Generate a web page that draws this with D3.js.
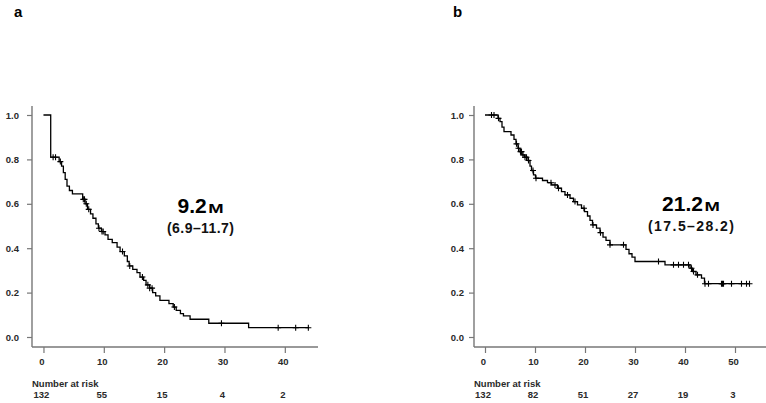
<!DOCTYPE html>
<html><head><meta charset="utf-8">
<script src="https://cdn.jsdelivr.net/npm/d3@7"></script>
<style>
body{margin:0;background:#fff;}
svg{display:block;font-family:Arial,"Liberation Sans",sans-serif;}
</style></head>
<body>
<svg id="chart" width="766" height="403"></svg>
<script>
// ---- Panel a data ----
const aStepTimes = [0,1.2,2.6,3.0,3.3,3.6,3.9,4.3,4.8,6.5,6.9,7.3,7.8,8.2,8.7,9.1,9.6,10.2,10.7,11.4,12.2,12.7,13.4,13.9,14.2,14.8,15.5,16.0,16.6,17.0,17.6,18.1,18.6,19.3,20.8,21.5,22.0,22.7,23.2,24.3,27.4,34.0];
const aStepSurv  = [1.0,0.81,0.79,0.77,0.74,0.71,0.68,0.66,0.645,0.62,0.60,0.575,0.555,0.535,0.51,0.49,0.475,0.46,0.44,0.425,0.405,0.385,0.365,0.34,0.32,0.305,0.29,0.27,0.255,0.235,0.22,0.20,0.185,0.165,0.15,0.135,0.12,0.105,0.095,0.08,0.062,0.042];
const aEnd = 44;
const aCensor = [1.6,2.0,2.8,6.6,6.8,7.1,7.5,9.2,9.7,9.9,13.1,14.3,16.4,17.3,17.6,18.0,21.7,29.5,38.9,41.8,43.9];
const aTicks = [0,10,20,30,40];
const aRisk = ["132","55","15","4","2"];
const aMedian = "9.2", aCI = "(6.9\u201311.7)";

// ---- Panel b data ----
const bStepTimes = [0,2.6,3.0,3.4,3.8,5.2,5.8,6.2,6.6,7.0,7.4,7.9,8.6,9.0,9.3,9.7,10.1,11.5,12.5,13.3,14.5,15.3,16.0,17.0,17.7,18.5,19.3,19.9,20.5,21.0,21.5,22.3,23.0,23.6,24.2,25.0,28.2,28.8,29.4,30.0,36.0,41.0,41.5,42.2,43.3,43.9];
const bStepSurv  = [1.0,0.985,0.97,0.945,0.925,0.91,0.89,0.87,0.85,0.835,0.82,0.81,0.795,0.77,0.75,0.73,0.715,0.705,0.695,0.685,0.67,0.655,0.64,0.625,0.61,0.595,0.58,0.565,0.545,0.525,0.505,0.49,0.47,0.45,0.435,0.415,0.395,0.375,0.36,0.34,0.325,0.31,0.295,0.28,0.265,0.24];
const bEnd = 53;
const bCensor = [1.3,1.8,2.7,6.3,6.7,7.1,7.3,7.6,8.0,8.3,8.7,9.6,10.2,13.2,14.0,14.7,16.5,18.0,19.8,21.6,23.1,25.0,27.7,34.7,37.7,38.7,39.7,40.7,41.3,41.7,42.5,44.0,44.7,47.3,47.5,47.7,49.3,51.3,52.3,52.9];
const bTicks = [0,10,20,30,40,50];
const bRisk = ["132","82","51","27","19","3"];
const bMedian = "21.2", bCI = "(17.5\u201328.2)";

const yTicks = [0,0.2,0.4,0.6,0.8,1.0];

const svg = d3.select("#chart");
const y = d3.scaleLinear().domain([0,1]).range([337,115]);

function survAt(times, surv, t){
  let s = surv[0];
  for (let i=0;i<times.length;i++){ if (times[i] <= t) s = surv[i]; }
  return s;
}

function panel(opt){
  const g = svg.append("g");
  const x = d3.scaleLinear().domain(opt.xDomain).range(opt.xRange);
  const axisCol = "#777";
  const textCol = "#2a2a2a";
  // L-shaped frame
  g.append("line").attr("x1",opt.xRange[0]).attr("x2",opt.xRange[1])
    .attr("y1",y(-0.045)).attr("y2",y(-0.045)).attr("stroke",axisCol).attr("stroke-width",1.4);
  g.append("line").attr("x1",opt.xRange[0]).attr("x2",opt.xRange[0])
    .attr("y1",y(1.04)).attr("y2",y(-0.045)).attr("stroke",axisCol).attr("stroke-width",1.4);

  // x axis
  const xa = g.append("g").attr("transform",`translate(0,${y(-0.045)})`)
    .call(d3.axisBottom(x).tickValues(opt.ticks).tickSize(6).tickSizeOuter(0).tickPadding(5).tickFormat(d3.format("d")));
  xa.select(".domain").remove();
  xa.selectAll("line").attr("stroke",axisCol).attr("stroke-width",1.2);
  xa.selectAll("text").attr("font-size",9.5).attr("font-weight","bold").attr("fill",textCol).attr("dx",-2);

  // y axis
  const ya = g.append("g").attr("transform",`translate(${opt.xRange[0]},0)`)
    .call(d3.axisLeft(y).tickValues(yTicks).tickSize(5).tickSizeOuter(0).tickPadding(opt.yPad).tickFormat(d3.format(".1f")));
  ya.select(".domain").remove();
  ya.selectAll("line").attr("stroke",axisCol).attr("stroke-width",1.2);
  ya.selectAll("text").attr("font-size",9.5).attr("font-weight","bold").attr("fill",textCol);

  // KM step curve
  const pts = opt.times.map((t,i)=>[t,opt.surv[i]]);
  pts.push([opt.end, opt.surv[opt.surv.length-1]]);
  const line = d3.line().x(d=>x(d[0])).y(d=>y(d[1])).curve(d3.curveStepAfter);
  g.append("path").attr("d",line(pts)).attr("fill","none").attr("stroke","#000").attr("stroke-width",1.3);

  // censor marks
  opt.censor.forEach(t=>{
    const cx = x(t), cy = y(survAt(opt.times,opt.surv,t));
    g.append("path").attr("d",`M${cx-3},${cy}H${cx+3}M${cx},${cy-3}V${cy+3}`)
      .attr("stroke","#000").attr("stroke-width",1.1).attr("fill","none");
  });

  // number at risk
  g.append("text").attr("x",opt.xRange[0]).attr("y",387).attr("font-size",9.5).attr("font-weight","bold")
    .attr("fill",textCol).text("Number at risk");
  g.selectAll(".risk").data(opt.risk).enter().append("text")
    .attr("x",(d,i)=>x(opt.ticks[i])-2).attr("y",398).attr("text-anchor","middle")
    .attr("font-size",9.5).attr("font-weight","bold").attr("fill",textCol).text(d=>d);

  // panel label
  g.append("text").attr("x",opt.labelX).attr("y",17).attr("font-size",15).attr("font-weight","bold")
    .attr("fill","#000").text(opt.label);

  // median annotation: number + wide small "M"
  const num = g.append("text").attr("y",opt.annY).attr("font-size",21).attr("font-weight","bold")
    .attr("fill","#000").text(opt.median);
  const numW = num.node().getComputedTextLength();
  const mScale = 1.42, mSize = 13;
  const mW = mSize*0.833*mScale;
  const total = numW + 1.5 + mW;
  const x0 = opt.annX - total/2;
  num.attr("x", x0);
  g.append("text").attr("transform",`translate(${x0+numW+1.5},${opt.annY}) scale(${mScale},1)`)
    .attr("font-size",mSize).attr("font-weight","bold").attr("fill","#000").text("M");
  g.append("text").attr("x",opt.annX - opt.ciW/2).attr("y",opt.annY+20)
    .attr("textLength",opt.ciW).attr("lengthAdjust","spacing")
    .attr("font-weight","bold").attr("font-size",14).attr("fill","#111").text(opt.ci);
}

panel({xDomain:[-1.9,45.5], xRange:[32,318], ticks:aTicks, risk:aRisk, times:aStepTimes, surv:aStepSurv,
  end:aEnd, censor:aCensor, label:"a", labelX:14, annX:200.5, annY:213, median:aMedian, ci:aCI, ciW:67, yPad:8});
panel({xDomain:[-2.2,56.2], xRange:[474,766], ticks:bTicks, risk:bRisk, times:bStepTimes, surv:bStepSurv,
  end:bEnd, censor:bCensor, label:"b", labelX:453, annX:691, annY:210.5, median:bMedian, ci:bCI, ciW:86, yPad:5});
</script>
</body></html>
